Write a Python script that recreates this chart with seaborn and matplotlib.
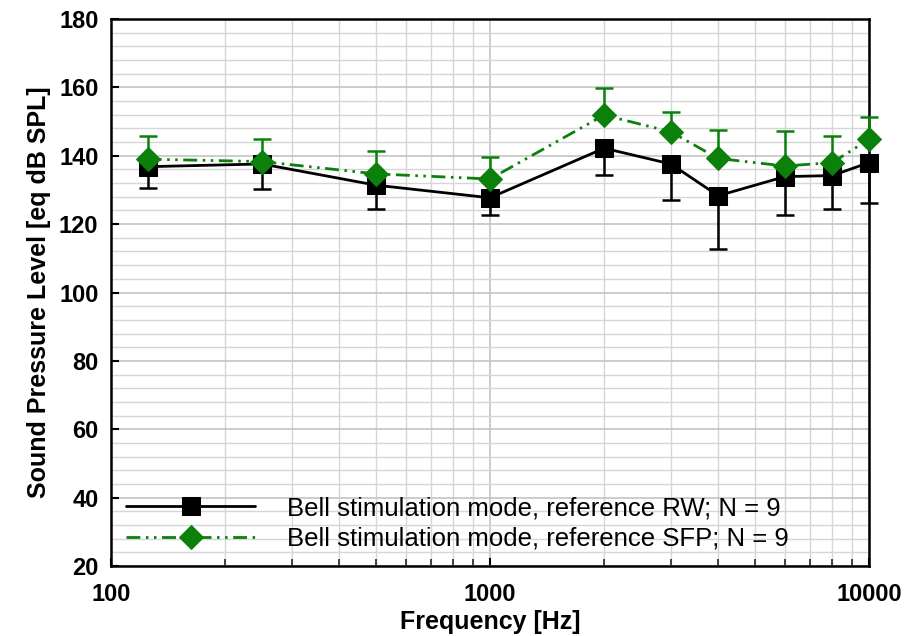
import numpy as np
import pandas as pd
import matplotlib
matplotlib.use("Agg")
import matplotlib.pyplot as plt
from matplotlib.ticker import FixedLocator, NullFormatter, MultipleLocator
import seaborn as sns

# ---- data ----
freqs = [125, 250, 500, 1000, 2000, 3000, 4000, 6000, 8000, 10000]
rw_mean = [136.8, 137.6, 131.4, 127.7, 142.2, 137.6, 128.3, 133.9, 134.2, 138.0]
rw_lower = [130.5, 130.3, 124.4, 122.7, 134.4, 127.0, 112.7, 122.7, 124.4, 126.3]
sfp_mean = [139.0, 138.3, 134.7, 133.2, 151.9, 147.0, 139.2, 137.0, 138.0, 144.8]
sfp_upper = [145.8, 144.9, 141.4, 139.7, 159.7, 152.7, 147.5, 147.2, 145.8, 151.4]
label_rw = "Bell stimulation mode, reference RW; N = 9"
label_sfp = "Bell stimulation mode, reference SFP; N = 9"
x_label = "Frequency [Hz]"
y_label = "Sound Pressure Level [eq dB SPL]"

sns.set_theme(style="white")
plt.rcParams['font.family'] = ['Liberation Sans', 'DejaVu Sans']
plt.rcParams['text.color'] = 'black'
plt.rcParams['axes.labelcolor'] = 'black'

fig = plt.figure(figsize=(9.14, 6.36), dpi=100)
ax = fig.add_axes([111/914, 1-566/636, (869-111)/914, (566-19)/636])

df_rw = pd.DataFrame({"f": freqs, "v": rw_mean})
df_sfp = pd.DataFrame({"f": freqs, "v": sfp_mean})

green = "#0b800b"
rw_err = np.array(rw_mean) - np.array(rw_lower)
sfp_err = np.array(sfp_upper) - np.array(sfp_mean)
eb1 = ax.errorbar(freqs, rw_mean, yerr=[rw_err, np.zeros_like(rw_err)], fmt="none",
                  ecolor="black", elinewidth=1.8, capsize=6.5, capthick=1.8, zorder=3)
eb2 = ax.errorbar(freqs, sfp_mean, yerr=[np.zeros_like(sfp_err), sfp_err], fmt="none",
                  ecolor=green, elinewidth=1.8, capsize=6.5, capthick=1.8, zorder=5)
for eb in (eb1, eb2):
    for art in eb.lines:
        if art is None:
            continue
        for a in (art if isinstance(art, tuple) else (art,)):
            a.set_clip_on(False)

sns.lineplot(data=df_rw, x="f", y="v", ax=ax, color="black", lw=2.0,
             marker="s", markersize=12.5, markeredgecolor="black",
             label=label_rw, zorder=4, clip_on=False)
sns.lineplot(data=df_sfp, x="f", y="v", ax=ax, color=green, lw=2.0,
             marker="D", markersize=12, markeredgecolor=green,
             label=label_sfp, zorder=6, clip_on=False)
ax.lines[-1].set_dashes((5, 2, 0.9, 2, 0.9, 2))

ax.set_xscale("log")
ax.set_xlim(100, 10000)
ax.set_ylim(20, 180)

ax.xaxis.set_major_locator(FixedLocator([100, 1000, 10000]))
ax.set_xticklabels(["100", "1000", "10000"])
minor_x = [m * d for d in (100, 1000) for m in range(2, 10)]
ax.xaxis.set_minor_locator(FixedLocator(minor_x))
ax.xaxis.set_minor_formatter(NullFormatter())
ax.yaxis.set_major_locator(MultipleLocator(20))
ax.yaxis.set_minor_locator(MultipleLocator(4))

ax.grid(which="major", color="#c4c4c4", lw=1.2)
ax.grid(which="minor", color="#d6d6d6", lw=1.0)
ax.set_axisbelow(True)

ax.tick_params(axis="both", which="major", direction="in", length=6, width=1.5,
               labelsize=17, colors="black")
ax.tick_params(axis="x", which="major", pad=12, bottom=True)
ax.tick_params(axis="y", which="major", pad=9, left=True)
ax.tick_params(axis="x", which="minor", direction="in", length=5, width=1.2,
               bottom=True)
ax.tick_params(axis="y", which="minor", length=0)
for lab in ax.get_xticklabels() + ax.get_yticklabels():
    lab.set_fontweight("bold")

for s in ax.spines.values():
    s.set_color("black")
    s.set_linewidth(1.8)

ax.set_xlabel(x_label, fontsize=18, fontweight="bold", labelpad=3)
ax.set_ylabel(y_label, fontsize=18, fontweight="bold", labelpad=6)

leg = ax.legend(loc="lower left", bbox_to_anchor=(0.0, 0.0), frameon=False,
                fontsize=18.5, handlelength=5.0, handletextpad=1.25,
                labelspacing=0.25, borderpad=0.5, borderaxespad=0.1)
for t in leg.get_texts():
    t.set_color("black")

fig.savefig("out.png", dpi=100)
